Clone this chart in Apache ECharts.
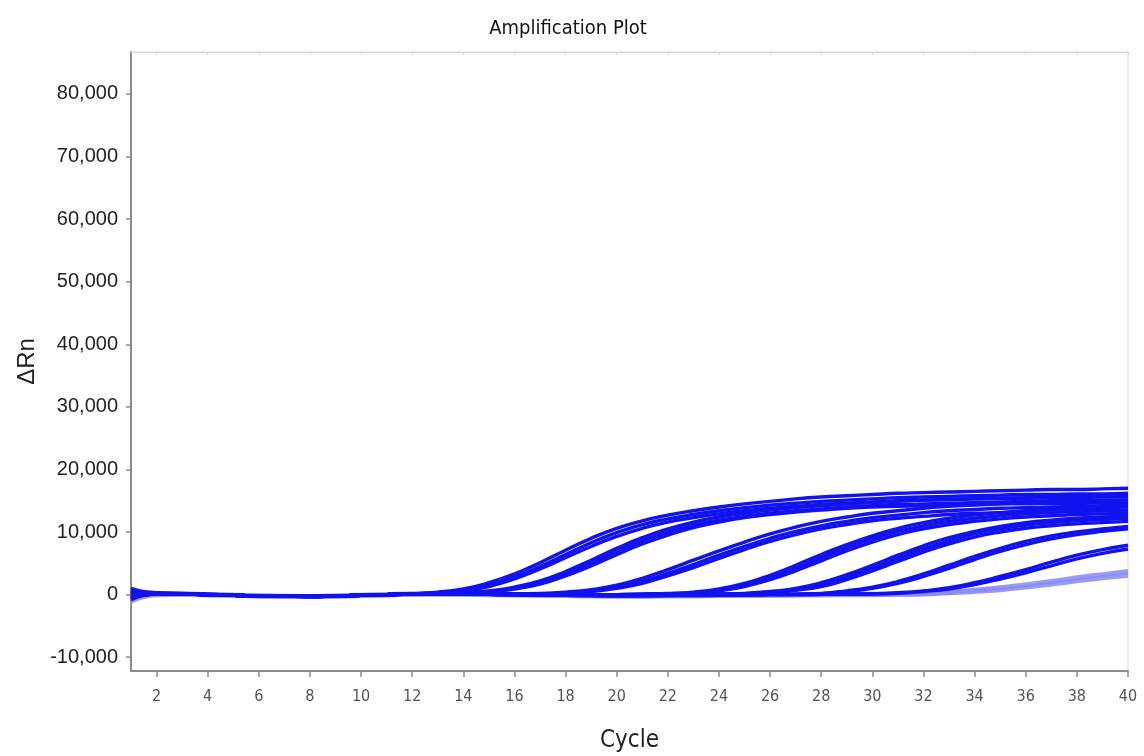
<!DOCTYPE html>
<html>
<head>
<meta charset="utf-8">
<title>Amplification Plot</title>
<script src="https://cdn.jsdelivr.net/npm/echarts@6/dist/echarts.min.js"></script>
<style>
  html, body { margin: 0; padding: 0; background: #fff; }
  #chart { width: 1144px; height: 756px; }
</style>
</head>
<body>
<div id="chart"></div>
<script>
// PCR cycles on the x axis
const cycles = [1,2,3,4,5,6,7,8,9,10,11,12,13,14,15,16,17,18,19,20,21,22,23,24,25,26,27,28,29,30,31,32,33,34,35,36,37,38,39,40];
const xTicks = [2,4,6,8,10,12,14,16,18,20,22,24,26,28,30,32,34,36,38,40];
const yTicks = [-10000,0,10000,20000,30000,40000,50000,60000,70000,80000];

// Delta Rn per cycle, one array per well (replicate wells grouped by dilution)
const wellA1 = [600,300,200,100,-100,-200,-200,-250,-200,-100,0,150,400,900,1900,3300,5100,7100,9000,10600,11800,12700,13400,14000,14500,14900,15300,15600,15800,16000,16200,16300,16400,16500,16600,16700,16800,16800,16900,17000];
const wellA2 = [-500,100,100,0,-100,-200,-250,-250,-200,-100,0,100,300,700,1500,2800,4500,6400,8300,9900,11200,12100,12800,13400,13900,14300,14600,14900,15100,15300,15500,15600,15700,15800,15900,16000,16000,16100,16100,16200];
const wellA3 = [1000,200,150,0,-100,-200,-250,-300,-200,-100,0,100,300,600,1300,2500,4100,5900,7700,9300,10600,11600,12300,12900,13400,13800,14100,14400,14600,14800,15000,15100,15200,15300,15400,15400,15500,15500,15600,15600];

const wellB1 = [300,200,100,0,-100,-200,-250,-250,-200,-100,0,100,200,300,600,1200,2200,3700,5500,7400,9100,10500,11600,12400,13000,13500,13900,14200,14500,14700,14900,15100,15200,15300,15400,15500,15600,15700,15700,15800];
const wellB2 = [-800,100,100,0,-100,-200,-250,-250,-200,-100,0,100,200,300,500,1000,1900,3300,5000,6900,8600,10000,11100,11900,12500,13000,13400,13700,14000,14200,14400,14500,14600,14700,14800,14900,15000,15000,15100,15100];
const wellB3 = [500,200,100,0,-100,-200,-250,-300,-200,-100,0,100,200,300,500,900,1700,3000,4600,6400,8100,9500,10700,11600,12300,12800,13200,13500,13800,14000,14100,14200,14300,14400,14500,14500,14600,14600,14700,14700];

const wellC1 = [200,150,100,0,-100,-200,-250,-250,-200,-100,0,100,150,200,200,150,200,400,800,1500,2600,4000,5500,7000,8400,9700,10800,11700,12400,13000,13400,13800,14100,14300,14500,14700,14800,14900,15000,15100];
const wellC2 = [-300,100,100,0,-100,-200,-250,-250,-200,-100,0,100,150,150,100,100,100,300,600,1200,2100,3400,4800,6300,7700,9000,10100,11000,11700,12300,12700,13100,13400,13600,13800,13900,14000,14100,14200,14200];
const wellC3 = [700,200,100,0,-100,-200,-250,-300,-200,-100,0,100,100,100,100,50,100,200,500,1000,1800,3000,4300,5800,7200,8500,9600,10500,11200,11800,12200,12500,12800,13000,13100,13200,13300,13400,13400,13500];

const wellD1 = [200,150,100,0,-100,-200,-250,-250,-200,-100,0,100,150,150,100,50,0,0,-50,0,100,200,400,900,1800,3100,4700,6400,8000,9400,10600,11500,12200,12700,13100,13400,13600,13800,13900,14000];
const wellD2 = [-200,100,100,0,-100,-200,-250,-250,-200,-100,0,100,100,100,50,0,-50,-50,-50,0,50,150,300,700,1500,2700,4200,5900,7500,8900,10100,11000,11700,12200,12600,12900,13100,13300,13400,13500];
const wellD3 = [400,150,100,0,-100,-200,-250,-300,-200,-100,0,100,100,100,50,0,-50,-100,-50,0,50,100,200,600,1300,2400,3800,5400,7000,8400,9600,10500,11200,11700,12100,12400,12600,12800,12900,13000];

const wellE1 = [200,150,100,0,-100,-200,-250,-250,-200,-100,0,100,150,150,100,50,0,-50,-100,-100,-100,-50,0,100,200,500,1000,1900,3200,4700,6300,7800,9100,10100,10900,11500,11900,12200,12400,12600];
const wellE2 = [-400,100,100,0,-100,-200,-250,-250,-200,-100,0,100,100,100,50,0,-50,-100,-100,-150,-100,-50,0,100,150,400,800,1600,2800,4200,5800,7300,8600,9700,10500,11100,11500,11800,12000,12200];
const wellE3 = [500,200,100,0,-100,-200,-250,-300,-200,-100,0,100,100,100,50,0,-50,-100,-150,-150,-100,-50,0,50,100,300,700,1300,2400,3800,5300,6800,8100,9200,10000,10600,11000,11300,11500,11700];

const wellF1 = [200,150,100,0,-100,-200,-250,-250,-200,-100,0,100,150,150,100,50,0,-50,-100,-100,-150,-100,-100,-50,0,50,100,200,600,1200,2100,3300,4700,6100,7400,8500,9400,10000,10500,10900];
const wellF2 = [-300,100,100,0,-100,-200,-250,-300,-200,-100,0,100,100,100,50,0,-50,-100,-150,-150,-150,-100,-100,-50,0,0,50,150,500,1000,1800,2900,4200,5600,6900,8000,8900,9600,10100,10500];

const wellG1 = [300,150,100,0,-100,-200,-250,-250,-200,-100,0,100,150,150,100,50,0,-50,-100,-150,-150,-150,-100,-100,-50,0,0,50,100,150,300,600,1100,1900,2900,4000,5200,6300,7200,7900];
const wellG2 = [-600,100,100,0,-100,-200,-250,-300,-200,-100,0,100,100,100,50,0,-50,-100,-150,-200,-200,-150,-150,-100,-50,0,0,50,100,100,200,500,900,1600,2500,3500,4600,5700,6600,7300];

const wellH1 = [800,200,100,0,-100,-200,-250,-300,-200,-100,0,100,100,100,50,0,-50,-100,-150,-200,-200,-150,-150,-100,-100,-50,0,0,50,50,100,200,400,700,1100,1600,2100,2700,3200,3700];
const wellH2 = [-1000,0,50,0,-100,-200,-300,-300,-250,-150,-50,50,100,50,0,-50,-100,-150,-200,-200,-250,-200,-200,-150,-100,-100,-50,0,0,0,50,100,300,500,800,1200,1700,2200,2700,3100];

const strongWells = [wellA1,wellA2,wellA3,wellB1,wellB2,wellB3,wellC1,wellC2,wellC3,
                     wellD1,wellD2,wellD3,wellE1,wellE2,wellE3,wellF1,wellF2,wellG1,wellG2];
const faintWells = [wellH1, wellH2];

const FONT = 'Liberation Sans, Arial, sans-serif';
const NARROW = 'Liberation Sans Narrow, Arial Narrow, DejaVu Sans Condensed, sans-serif';

function toPairs(values) {
  return cycles.map((c, i) => [c, values[i]]);
}

const series = [];
faintWells.forEach((w, i) => {
  series.push({
    type: 'line', name: 'faint' + i, data: toPairs(w), smooth: true,
    showSymbol: false, silent: true,
    lineStyle: { color: '#8a8af6', width: 5, opacity: 0.85 }
  });
});
strongWells.forEach((w, i) => {
  series.push({
    type: 'line', name: 'well' + i, data: toPairs(w), smooth: true,
    showSymbol: false, silent: true,
    lineStyle: { color: '#1212f0', width: 3.4 }
  });
});

const chart = echarts.init(document.getElementById('chart'), null, { renderer: 'canvas' });
chart.setOption({
  animation: false,
  backgroundColor: '#ffffff',
  title: {
    text: 'Amplification Plot',
    left: 563, top: 14, textAlign: 'center',
    textStyle: { fontFamily: NARROW, fontSize: 20, fontWeight: 'normal', color: '#111' }
  },
  grid: {
    left: 131, right: 16, top: 52, bottom: 85,
    outerBoundsMode: 'none', containLabel: false,
    show: true, borderColor: '#d8d8d8', borderWidth: 1
  },
  xAxis: [{
    type: 'value', min: 1, max: 40,
    name: 'Cycle', nameLocation: 'middle', nameGap: 58,
    nameTextStyle: { fontFamily: NARROW, fontSize: 24, color: '#222' },
    axisLine: { show: true, onZero: false, lineStyle: { color: '#8c8c8c', width: 2 } },
    axisTick: { show: true, length: 6, customValues: xTicks, lineStyle: { color: '#8c8c8c', width: 1.5 } },
    axisLabel: { customValues: xTicks, margin: 18, fontFamily: NARROW, fontSize: 16, color: '#555' },
    splitLine: { show: false }
  }, {
    type: 'value', min: 1, max: 40, position: 'top',
    axisLine: { show: true, onZero: false, lineStyle: { color: '#d8d8d8', width: 1 } },
    axisTick: { show: true, inside: true, length: 3, customValues: xTicks, lineStyle: { color: '#d0d0d0' } },
    axisLabel: { show: false },
    splitLine: { show: false }
  }],
  yAxis: {
    type: 'value', min: -12200, max: 86700,
    name: 'ΔRn', nameLocation: 'middle', nameGap: 88, nameRotate: 90,
    nameTextStyle: { fontFamily: FONT, fontSize: 24, color: '#222' },
    axisLine: { show: true, onZero: false, lineStyle: { color: '#8c8c8c', width: 2 } },
    axisTick: { show: true, length: 5, customValues: yTicks, lineStyle: { color: '#8c8c8c', width: 1.5 } },
    axisLabel: {
      customValues: yTicks, margin: 13, fontFamily: FONT, fontSize: 20, color: '#222',
      formatter: v => v.toLocaleString('en-US')
    },
    splitLine: { show: false }
  },
  series: series
});
</script>
</body>
</html>
